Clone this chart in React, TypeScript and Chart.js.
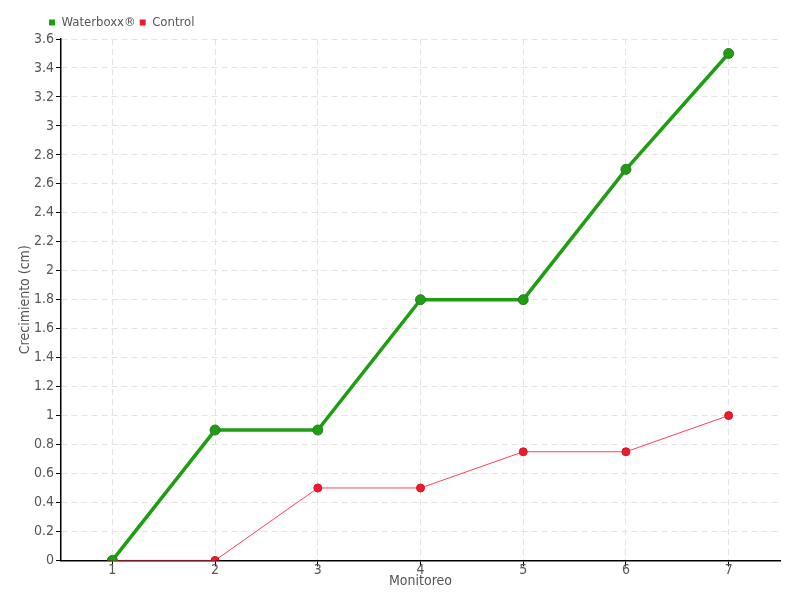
import React, { useEffect, useRef } from "react";
import { Chart, registerables } from "chart.js";

Chart.register(...registerables);

const categories = ["1", "2", "3", "4", "5", "6", "7"];
const waterboxx = [0, 0.9, 0.9, 1.8, 1.8, 2.7, 3.5];
const control = [0, 0, 0.5, 0.5, 0.75, 0.75, 1.0];

const FONT = "'DejaVu Sans Condensed', 'Liberation Sans Narrow', 'Roboto', sans-serif";
const TEXT = "#555555";

const legendShift = {
  id: "legendShift",
  afterLayout(chart: any) {
    const lg = chart.legend;
    if (lg) {
      const dx = 45 - lg.left;
      lg.left += dx;
      lg.right += dx;
    }
  },
};

export default function App() {
  const ref = useRef<HTMLCanvasElement>(null);
  useEffect(() => {
    if (!ref.current) return;
    const chart = new Chart(ref.current, {
      type: "line",
      data: {
        labels: categories,
        datasets: [
          {
            label: "Waterboxx®",
            data: waterboxx,
            borderColor: "#1f9e14",
            backgroundColor: "#1f9e14",
            borderWidth: 3.5,
            pointRadius: 5,
            pointBackgroundColor: "#1f9e14",
            pointBorderColor: "#2b7a25",
            pointBorderWidth: 1,
            tension: 0,
          },
          {
            label: "Control",
            data: control,
            borderColor: "#ff4055",
            backgroundColor: "#ee1a2e",
            borderWidth: 1,
            pointRadius: 4,
            pointBackgroundColor: "#ee1a2e",
            pointBorderColor: "#d01428",
            pointBorderWidth: 1,
            tension: 0,
          },
        ],
      },
      options: {
        animation: false,
        responsive: false,
        maintainAspectRatio: false,
        layout: { padding: { left: 18, right: 20, top: 12, bottom: 10 } },
        plugins: {
          legend: {
            position: "top",
            align: "start",
            labels: {
              boxWidth: 6,
              boxHeight: 6,
              padding: 4,
              color: TEXT,
              font: { family: FONT, size: 13 },
              generateLabels: (c: any) =>
                (Chart.defaults.plugins.legend.labels as any)
                  .generateLabels(c)
                  .map((l: any) => ({ ...l, lineWidth: 0, strokeStyle: "transparent" })),
            },
          },
          tooltip: { enabled: false },
        },
        scales: {
          x: {
            offset: true,
            grid: {
              offset: false,
              color: "#e3e3e3",
              lineWidth: 1,
              tickColor: "#000",
              tickLength: 6,
            },
            border: { color: "#000", width: 1.5, dash: [6, 4] },
            ticks: { color: TEXT, font: { family: FONT, size: 14 }, padding: -4 },
            title: {
              display: true,
              text: "Monitoreo",
              color: TEXT,
              font: { family: FONT, size: 14 },
              padding: { top: -2, bottom: 0 },
            },
          },
          y: {
            min: 0,
            max: 3.6,
            grid: {
              color: "#e3e3e3",
              lineWidth: 1,
              tickColor: "#000",
              tickLength: 5,
            },
            border: { color: "#000", width: 1.5, dash: [6, 4] },
            ticks: {
              stepSize: 0.2,
              color: TEXT,
              font: { family: FONT, size: 14 },
              padding: 2,
              callback: (v: any) => String(Number(Number(v).toFixed(1))),
            },
            title: {
              display: true,
              text: "Crecimiento (cm)",
              color: TEXT,
              font: { family: FONT, size: 14, lineHeight: 1 },
              padding: { top: 0, bottom: 0 },
            },
          },
        },
      },
      plugins: [legendShift],
    });
    return () => chart.destroy();
  }, []);
  return (
    <div style={{ position: "fixed", left: 0, top: 0, width: 800, height: 600 }}>
      <canvas ref={ref} width={800} height={600} style={{ width: 800, height: 600 }} />
    </div>
  );
}
